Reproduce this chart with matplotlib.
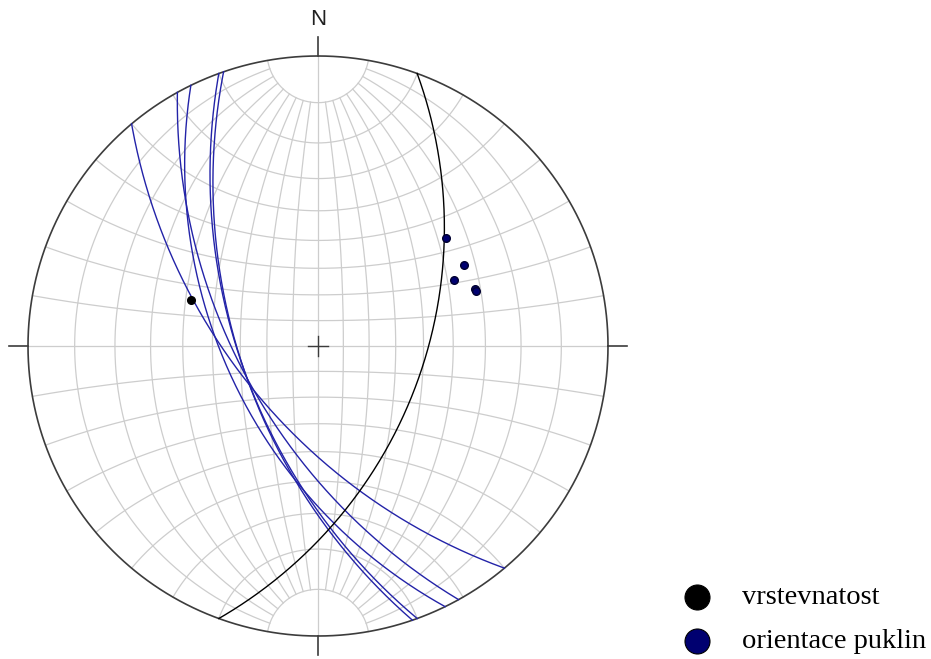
import numpy as np
import matplotlib
matplotlib.use("Agg")
import matplotlib.pyplot as plt

# ── Data: planes given as dip direction / dip (degrees) ──────────────
BEDDING_DIPDIR = [110]
BEDDING_DIP = [50]

JOINT_DIPDIR = [230, 241, 244, 250, 251]
JOINT_DIP = [60, 60, 55, 60, 60]

LEGEND_LABELS = ["vrstevnatost", "orientace puklin"]

# ── Style ────────────────────────────────────────────────────────────
GRID_COLOR = "#cdcdcd"
PRIM_COLOR = "#3c3c3c"
JOINT_COLOR = "#2323a8"
JOINT_PT = "#000070"
W, H = 931, 659
CX, CY, R = 318, 346, 290   # net centre / radius in pixels


def to_xy(v):
    """Stereographic (equal-angle) lower hemisphere projection of (n, e, d) vectors."""
    n, e, d = v
    return e / (1 + d), n / (1 + d)


def plane_vectors(dipdir, dip, t0=0.0, t1=180.0, num=361):
    dd, dp = np.radians(dipdir), np.radians(dip)
    s = dd - np.pi / 2
    th = np.radians(np.linspace(t0, t1, num))
    sv = np.array([np.cos(s), np.sin(s), 0.0])
    dv = np.array([np.cos(dp) * np.cos(dd), np.cos(dp) * np.sin(dd), np.sin(dp)])
    return np.outer(sv, np.cos(th)) + np.outer(dv, np.sin(th))


def pole_xy(dipdir, dip):
    trend = np.radians(np.asarray(dipdir) + 180)
    plunge = np.radians(90 - np.asarray(dip))
    v = np.array([np.cos(plunge) * np.cos(trend), np.cos(plunge) * np.sin(trend), np.sin(plunge)])
    return to_xy(v)


fig = plt.figure(figsize=(W / 100, H / 100), dpi=100)
ax = fig.add_axes([0, 0, 1, 1])
ax.set_xlim(-CX / R, (W - CX) / R)
ax.set_ylim(-(H - CY) / R, CY / R)
ax.axis("off")

# ── Wulff net grid ───────────────────────────────────────────────────
for dip in range(10, 90, 10):
    for dd in (90, 270):
        x, y = to_xy(plane_vectors(dd, dip, 10, 170))
        ax.plot(x, y, color=GRID_COLOR, lw=0.9, zorder=1)
phi = np.radians(np.linspace(0, 180, 361))
for a in range(10, 180, 10):
    if a == 90:
        continue
    ar = np.radians(a)
    v = np.array([np.full_like(phi, np.cos(ar)), np.sin(ar) * np.cos(phi), np.sin(ar) * np.sin(phi)])
    x, y = to_xy(v)
    ax.plot(x, y, color=GRID_COLOR, lw=0.9, zorder=1)
ax.plot([-1, 1], [0, 0], color=GRID_COLOR, lw=0.9, zorder=1)
ax.plot([0, 0], [-1, 1], color=GRID_COLOR, lw=0.9, zorder=1)

# primitive circle, ticks, centre cross
t = np.linspace(0, 2 * np.pi, 721)
ax.plot(np.cos(t), np.sin(t), color=PRIM_COLOR, lw=1.2, zorder=3)
tl = 19 / R
for dx, dy in ((0, 1), (1, 0), (0, -1), (-1, 0)):
    ax.plot([dx, dx * (1 + tl)], [dy, dy * (1 + tl)], color=PRIM_COLOR, lw=1.2, zorder=3)
c = 10 / R
ax.plot([-c, c], [0, 0], color=PRIM_COLOR, lw=1.0, zorder=3)
ax.plot([0, 0], [-c, c], color=PRIM_COLOR, lw=1.0, zorder=3)
ax.text(0, 1 + 36 / R, "N", ha="center", va="center", fontsize=16,
        family="Liberation Sans", color="#202020")

# ── Planes and poles ─────────────────────────────────────────────────
for dd, dp in zip(JOINT_DIPDIR, JOINT_DIP):
    x, y = to_xy(plane_vectors(dd, dp))
    ax.plot(x, y, color=JOINT_COLOR, lw=1.0, zorder=4)
for dd, dp in zip(BEDDING_DIPDIR, BEDDING_DIP):
    x, y = to_xy(plane_vectors(dd, dp))
    ax.plot(x, y, color="black", lw=1.0, zorder=5)

px, py = pole_xy(JOINT_DIPDIR, JOINT_DIP)
ax.plot(px, py, "o", ms=5.5, color=JOINT_PT, mec="#000030", zorder=6)
px, py = pole_xy(BEDDING_DIPDIR, BEDDING_DIP)
ax.plot(px, py, "o", ms=5.5, color="black", zorder=6)

# ── Legend ───────────────────────────────────────────────────────────
for i, (lab, col) in enumerate(zip(LEGEND_LABELS, ["black", JOINT_PT])):
    ly = (CY - (597 + 44 * i)) / R
    ax.plot((697 - CX) / R, ly, "o", ms=18, color=col, mec="black", mew=0.8)
    ax.text((742 - CX) / R, ly, lab, ha="left", va="center", fontsize=20.5,
            family="Liberation Serif", color="black")

fig.savefig("out.png", dpi=100)
